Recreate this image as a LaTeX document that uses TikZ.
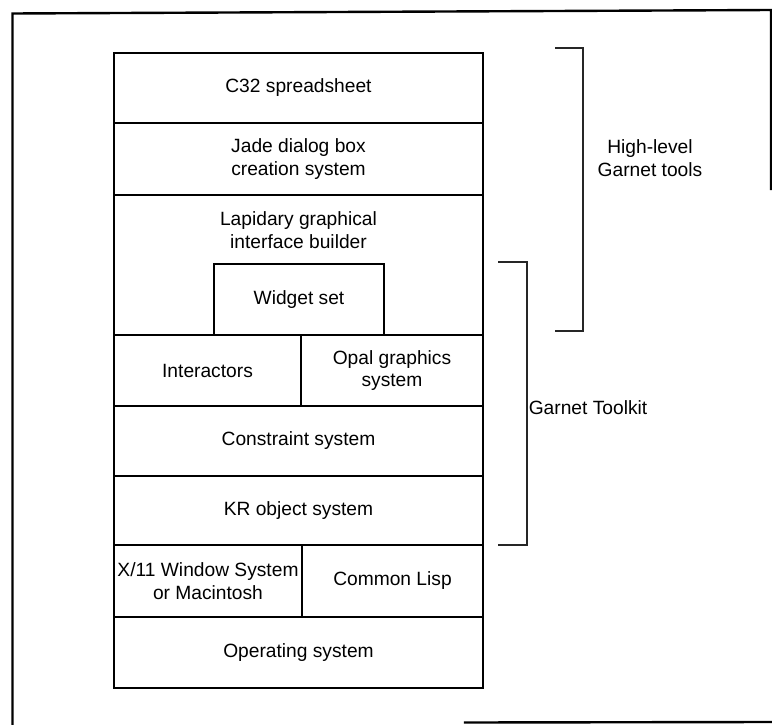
\documentclass[tikz,border=0pt]{standalone}
\usepackage{fontspec}
\setmainfont{Liberation Sans}
\begin{document}
\begin{tikzpicture}[x=1pt,y=-1pt,
  layer/.style={draw=black,line width=1.6pt,inner sep=0pt},
  lbl/.style={align=center,font=\fontsize{19.2}{22.5}\selectfont,inner sep=0pt},
  frameline/.style={line width=2.4pt,line cap=rect},
  brk/.style={line width=1.6pt,draw=black!85}]
\useasboundingbox (0,0) rectangle (772,725);
% outer frame (cropped scan)
\coordinate (f1) at (12.5,725);
\coordinate (f2) at (12.5,13.5);
\coordinate (f3) at (771,10);
\coordinate (f4) at (771,189);
\coordinate (f5) at (465,722.5);
\coordinate (f6) at (772,722);
\draw[frameline] (f1) -- (f2) -- (f3) -- (f4);
\draw[frameline] (f5) -- (f6);
% stack layers
\node[layer,minimum width=369pt,minimum height=70pt] (c32) at (298.5,88) {};
\node[layer,minimum width=369pt,minimum height=72pt] (jade) at (298.5,159) {};
\node[layer,minimum width=369pt,minimum height=140pt] (lap) at (298.5,265) {};
\node[layer,minimum width=170pt,minimum height=71pt] (widget) at (299,299.5) {};
\node[layer,minimum width=187pt,minimum height=71pt] (inter) at (207.5,370.5) {};
\node[layer,minimum width=182pt,minimum height=71pt] (opal) at (392,370.5) {};
\node[layer,minimum width=369pt,minimum height=70pt] (cons) at (298.5,441) {};
\node[layer,minimum width=369pt,minimum height=69pt] (kr) at (298.5,510.5) {};
\node[layer,minimum width=188pt,minimum height=72pt] (x11) at (208,581) {};
\node[layer,minimum width=181pt,minimum height=72pt] (lisp) at (392.5,581) {};
\node[layer,minimum width=369pt,minimum height=71pt] (os) at (298.5,652.5) {};
% texts
\node[lbl] (t1) at (c32) {C32 spreadsheet};
\node[lbl] (t2) at (jade) {Jade dialog box\\creation system};
\node[lbl] (t3) at (298.5,230) {Lapidary graphical\\interface builder};
\node[lbl] (t4) at (widget) {Widget set};
\node[lbl] (t5) at (inter) {Interactors};
\node[lbl] (t6) at (opal) {Opal graphics\\system};
\node[lbl] (t7) at (cons) {Constraint system};
\node[lbl] (t8) at (kr) {KR object system};
\node[lbl] (t9) at (x11) {X/11 Window System\\or Macintosh};
\node[lbl] (t10) at (lisp) {Common Lisp};
\node[lbl] (t11) at (os) {Operating system};
% brackets
\coordinate (h1) at (555,48);
\coordinate (h2) at (583,48);
\coordinate (h3) at (583,331);
\coordinate (h4) at (555,331);
\draw[brk] (h1) -- (h2) -- (h3) -- (h4);
\coordinate (g1) at (498,262);
\coordinate (g2) at (527,262);
\coordinate (g3) at (527,545);
\coordinate (g4) at (498,545);
\draw[brk] (g1) -- (g2) -- (g3) -- (g4);
\node[lbl] (hl) at (650,158) {High-level\\Garnet tools};
\node[lbl] (gt) at (588,408) {Garnet Toolkit};
\end{tikzpicture}
\end{document}
